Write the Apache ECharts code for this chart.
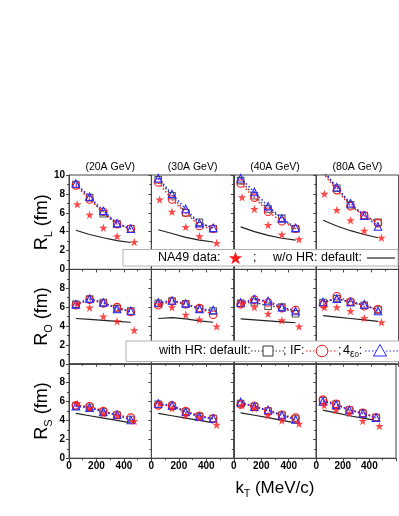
<!DOCTYPE html>
<html><head><meta charset="utf-8">
<script src="https://cdn.jsdelivr.net/npm/echarts@6/dist/echarts.min.js"></script>
<style>html,body{margin:0;padding:0;background:#fff}#c{width:399px;height:516px}</style>
</head><body><div id="c"></div>
<script>
// ---------- data ----------
const energies = ['(20A GeV)', '(30A GeV)', '(40A GeV)', '(80A GeV)'];
const kTModel = [50, 150, 250, 350, 450];
const kTData = [60, 150, 250, 350, 475];
const xTicks = [0, 200, 400, 600];
const yTicks = [0, 2, 4, 6, 8, 10];

// R_L (rows: 20A, 30A, 40A, 80A)
const RL_default = [[9.0,7.6,5.9,4.8,4.3],[9.5,7.8,6.0,5.0,4.3],[9.4,7.8,6.4,5.4,4.3],[10.4,8.6,6.85,5.7,5.0]];
const RL_IF      = [[8.9,7.4,6.1,4.8,4.3],[9.2,7.4,6.0,4.6,4.3],[9.1,7.6,6.1,5.1,4.3],[10.2,8.4,6.7,5.7,4.9]];
const RL_4e      = [[9.1,7.7,6.2,4.9,4.3],[9.65,8.0,6.4,4.9,4.4],[9.65,8.2,6.7,5.4,4.4],[10.5,8.7,7.0,5.7,4.55]];
const RL_NA49    = [[6.9,5.8,4.4,3.5,2.9],[7.4,6.1,4.5,3.5,2.8],[7.65,6.4,4.7,3.7,3.2],[8.0,6.3,5.2,4.1,3.35]];
const RL_woHR    = [[4.15,3.7,3.35,3.05,2.85],[4.2,3.8,3.4,3.1,2.9],[4.5,4.0,3.6,3.3,3.1],[5.2,4.6,4.1,3.7,3.35]];

// R_O
const RO_default = [[6.3,6.85,6.5,5.85,5.6],[6.4,6.65,6.35,5.8,5.6],[6.4,6.55,6.1,6.0,5.3],[6.5,6.9,6.5,6.2,5.7]];
const RO_IF      = [[6.2,6.8,6.4,6.0,5.5],[6.2,6.6,6.3,5.9,5.2],[6.3,6.8,6.5,5.9,5.7],[6.3,7.15,6.6,6.1,5.8]];
const RO_4e      = [[6.3,6.9,6.5,5.8,5.6],[6.5,6.7,6.4,5.8,5.7],[6.5,6.85,6.65,6.0,5.6],[6.55,6.9,6.55,6.3,5.6]];
const RO_NA49    = [[6.35,5.95,5.0,4.5,3.55],[6.3,6.0,5.2,4.7,3.95],[6.4,6.0,5.3,4.6,3.95],[6.0,6.0,5.6,4.85,4.4]];
const RO_woHR    = [[4.8,4.7,4.6,4.5,4.4],[4.8,4.9,4.75,4.55,4.4],[4.75,4.65,4.55,4.45,4.35],[5.1,4.95,4.8,4.65,4.5]];

// R_S
const RS_default = [[5.5,5.4,4.9,4.55,4.1],[5.7,5.5,4.9,4.4,4.2],[5.8,5.45,5.0,4.55,4.15],[6.1,5.7,5.1,4.75,4.3]];
const RS_IF      = [[5.6,5.5,5.0,4.6,4.3],[5.6,5.6,5.0,4.5,4.2],[5.7,5.55,5.0,4.6,4.3],[6.2,5.75,5.1,4.8,4.3]];
const RS_4e      = [[5.5,5.35,4.9,4.6,4.05],[5.8,5.6,4.9,4.4,4.2],[5.95,5.45,5.1,4.55,4.1],[6.0,5.65,5.1,4.75,4.3]];
const RS_NA49    = [[5.8,5.3,4.7,4.5,3.95],[5.8,5.3,4.55,4.3,3.55],[5.6,5.3,4.55,4.0,3.65],[5.6,5.1,4.75,3.95,3.4]];
const RS_woHR    = [[4.75,4.5,4.25,4.0,3.75],[4.75,4.5,4.25,4.0,3.75],[4.8,4.55,4.3,4.0,3.75],[5.1,4.8,4.5,4.25,4.0]];

const rowNames = ['L', 'O', 'S'];

// ---------- layout ----------
const FONT = 'Liberation Sans, Arial, Helvetica, sans-serif';
const gridLeft0 = 69, gridW = 82.4, gridTop0 = 175, gridH = 94.4;
const STAR = 'path://M50,0 L61.2,34.5 L97.6,34.5 L68.2,55.9 L79.4,90.5 L50,69.1 L20.6,90.5 L31.8,55.9 L2.4,34.5 L38.8,34.5 Z';
const RED = '#ff1a1a', BLUE = '#2b2bff', GRAY = '#555555';

const rows = [
  {def: RL_default, IF: RL_IF, e4: RL_4e, na: RL_NA49, wo: RL_woHR},
  {def: RO_default, IF: RO_IF, e4: RO_4e, na: RO_NA49, wo: RO_woHR},
  {def: RS_default, IF: RS_IF, e4: RS_4e, na: RS_NA49, wo: RS_woHR}
];

const grid = [], xAxis = [], yAxis = [], series = [];
const pairs = (xs, ys) => xs.map((x, i) => [x, ys[i]]);

for (let r = 0; r < 3; r++) {
  for (let c = 0; c < 4; c++) {
    const gi = r * 4 + c;
    grid.push({left: gridLeft0 + c * gridW, top: gridTop0 + r * gridH, width: gridW, height: gridH,
      show: true, borderColor: '#444', borderWidth: 1, backgroundColor: 'transparent'});
    xAxis.push({gridIndex: gi, type: 'value', min: xTicks[0], max: xTicks[xTicks.length - 1], interval: 200,
      axisLine: {lineStyle: {color: '#444', width: 1}},
      axisTick: {show: true, inside: false, length: 3, lineStyle: {color: '#444'}},
      minorTick: {show: true, splitNumber: 2, length: 2, lineStyle: {color: '#444'}},
      splitLine: {show: false},
      axisLabel: {show: r === 2, fontSize: 10, fontWeight: 'bold', color: '#000', fontFamily: FONT, margin: 3,
        formatter: v => (v === 600) ? '' : String(v)}
    });
    yAxis.push({gridIndex: gi, type: 'value', min: yTicks[0], max: yTicks[yTicks.length - 1], interval: 2,
      axisLine: {show: true, lineStyle: {color: '#444', width: 1}},
      axisTick: {show: true, inside: false, length: 3, lineStyle: {color: '#444'}},
      minorTick: {show: true, splitNumber: 2, length: 2, lineStyle: {color: '#444'}},
      splitLine: {show: false},
      axisLabel: {show: c === 0, fontSize: 10, fontWeight: 'bold', color: '#000', fontFamily: FONT, margin: 4,
        formatter: v => (v === 10 && r > 0) ? '' : String(v)}
    });
    const d = rows[r];
    series.push({type: 'line', xAxisIndex: gi, yAxisIndex: gi, data: pairs(kTModel, d.wo[c]), symbol: 'none',
      lineStyle: {color: '#222', width: 1.2}, z: 2, silent: true});
    series.push({type: 'line', xAxisIndex: gi, yAxisIndex: gi, data: pairs(kTModel, d.def[c]), symbol: 'rect', symbolSize: 6.5,
      itemStyle: {color: '#fff', borderColor: GRAY, borderWidth: 1.1}, lineStyle: {color: '#333', width: 1.4, type: [1.5, 2.2]}, z: 3});
    series.push({type: 'line', xAxisIndex: gi, yAxisIndex: gi, data: pairs(kTModel, d.IF[c]), symbol: 'circle', symbolSize: 7.5,
      itemStyle: {color: 'rgba(255,255,255,0)', borderColor: RED, borderWidth: 1.1}, lineStyle: {color: RED, width: 1.4, type: [1.5, 2.2]}, z: 4});
    series.push({type: 'line', xAxisIndex: gi, yAxisIndex: gi, data: pairs(kTModel, d.e4[c]), symbol: 'triangle', symbolSize: 7.5,
      itemStyle: {color: 'rgba(255,255,255,0)', borderColor: BLUE, borderWidth: 1.1}, lineStyle: {color: BLUE, width: 1.5, type: [1.5, 2.2]}, z: 5});
    series.push({type: 'scatter', xAxisIndex: gi, yAxisIndex: gi, data: pairs(kTData, d.na[c]), symbol: STAR, symbolSize: 8.5,
      itemStyle: {color: RED}, z: 6});
  }
}

// ---------- text & legends ----------
const graphic = [];
energies.forEach((t, c) => {
  graphic.push({type: 'text', x: gridLeft0 + c * gridW + gridW / 2, y: 167, z: 50,
    style: {text: t, fontSize: 10.5, fontFamily: FONT, fill: '#000', align: 'center', verticalAlign: 'middle'}});
});
rowNames.forEach((n, r) => {
  graphic.push({type: 'text', x: 42, y: gridTop0 + r * gridH + gridH / 2, rotation: Math.PI / 2, z: 50,
    style: {text: '{a|R}{b|' + n + '}{a| (fm)}', align: 'center', verticalAlign: 'middle', fontFamily: FONT,
      rich: {a: {fontSize: 18, fontFamily: FONT, lineHeight: 24, verticalAlign: 'middle'},
             b: {fontSize: 11, fontFamily: FONT, lineHeight: 11, verticalAlign: 'bottom'}}}});
});
graphic.push({type: 'text', x: 275, y: 488, z: 50,
  style: {text: '{a|k}{b|T}{a| (MeV/c)}', align: 'center', verticalAlign: 'middle', fontFamily: FONT,
    rich: {a: {fontSize: 17, fontFamily: FONT, lineHeight: 22, verticalAlign: 'middle'},
           b: {fontSize: 10, fontFamily: FONT, lineHeight: 10, verticalAlign: 'bottom'}}}});

// star polygon for legend
function starPts(cx, cy, R, ri) {
  const p = [];
  for (let i = 0; i < 10; i++) {
    const a = -Math.PI / 2 + i * Math.PI / 5;
    const rr = i % 2 === 0 ? R : ri;
    p.push([cx + rr * Math.cos(a), cy + rr * Math.sin(a)]);
  }
  return p;
}

// legend box 1
const lt = {fontSize: 12.5, fontFamily: FONT, fill: '#000', verticalAlign: 'middle'};
graphic.push({type: 'rect', shape: {x: 123, y: 249.5, width: 275, height: 16.5}, z: 60,
  style: {fill: '#fff', stroke: '#b0b0b0', lineWidth: 1}});
graphic.push({type: 'text', x: 158, y: 258, z: 61, style: Object.assign({text: 'NA49 data:'}, lt)});
graphic.push({type: 'polygon', z: 61, shape: {points: starPts(235.5, 258.5, 7, 2.8)}, style: {fill: RED}});
graphic.push({type: 'text', x: 253, y: 258, z: 61, style: Object.assign({text: ';'}, lt)});
graphic.push({type: 'text', x: 273, y: 258, z: 61, style: Object.assign({text: 'w/o HR: default:'}, lt)});
graphic.push({type: 'line', z: 61, shape: {x1: 367, y1: 258, x2: 395, y2: 258}, style: {stroke: '#222', lineWidth: 1.2}});

// legend box 2
graphic.push({type: 'rect', shape: {x: 126, y: 341, width: 274, height: 20.5}, z: 60,
  style: {fill: '#fff', stroke: '#b0b0b0', lineWidth: 1}});
graphic.push({type: 'text', x: 159, y: 351, z: 61, style: Object.assign({text: 'with HR: default:'}, lt)});
graphic.push({type: 'line', z: 61, shape: {x1: 251, y1: 351, x2: 284, y2: 351}, style: {stroke: '#333', lineWidth: 1.2, lineDash: [1.5, 2]}});
graphic.push({type: 'rect', z: 62, shape: {x: 263, y: 346, width: 10, height: 10}, style: {fill: '#fff', stroke: '#333', lineWidth: 1}});
graphic.push({type: 'text', x: 283, y: 351, z: 61, style: Object.assign({text: '; IF:'}, lt)});
graphic.push({type: 'line', z: 61, shape: {x1: 306, y1: 351, x2: 338, y2: 351}, style: {stroke: RED, lineWidth: 1.2, lineDash: [1.5, 2]}});
graphic.push({type: 'circle', z: 62, shape: {cx: 322, cy: 351, r: 5.8}, style: {fill: '#fff', stroke: RED, lineWidth: 1}});
graphic.push({type: 'text', x: 338, y: 351, z: 61, style: Object.assign({text: ';'}, lt)});
graphic.push({type: 'text', x: 343, y: 351, z: 61, style: {text: '{t|4}{e|ε}{u|0}{t|:}', verticalAlign: 'middle', fontFamily: FONT,
  rich: {t: {fontSize: 12.5, fontFamily: FONT, lineHeight: 16, verticalAlign: 'middle'},
         e: {fontSize: 10, fontFamily: FONT, lineHeight: 13, verticalAlign: 'bottom'},
         u: {fontSize: 8, fontFamily: FONT, lineHeight: 8, verticalAlign: 'bottom'}}}});
graphic.push({type: 'line', z: 61, shape: {x1: 365, y1: 351, x2: 398, y2: 351}, style: {stroke: BLUE, lineWidth: 1.2, lineDash: [1.5, 2]}});
graphic.push({type: 'polygon', z: 62, shape: {points: [[380, 344.5], [373.5, 356], [386.5, 356]]}, style: {fill: '#fff', stroke: BLUE, lineWidth: 1}});

const chart = echarts.init(document.getElementById('c'), null, {renderer: 'canvas'});
chart.setOption({animation: false, grid, xAxis, yAxis, series, graphic});
</script>
</body></html>
